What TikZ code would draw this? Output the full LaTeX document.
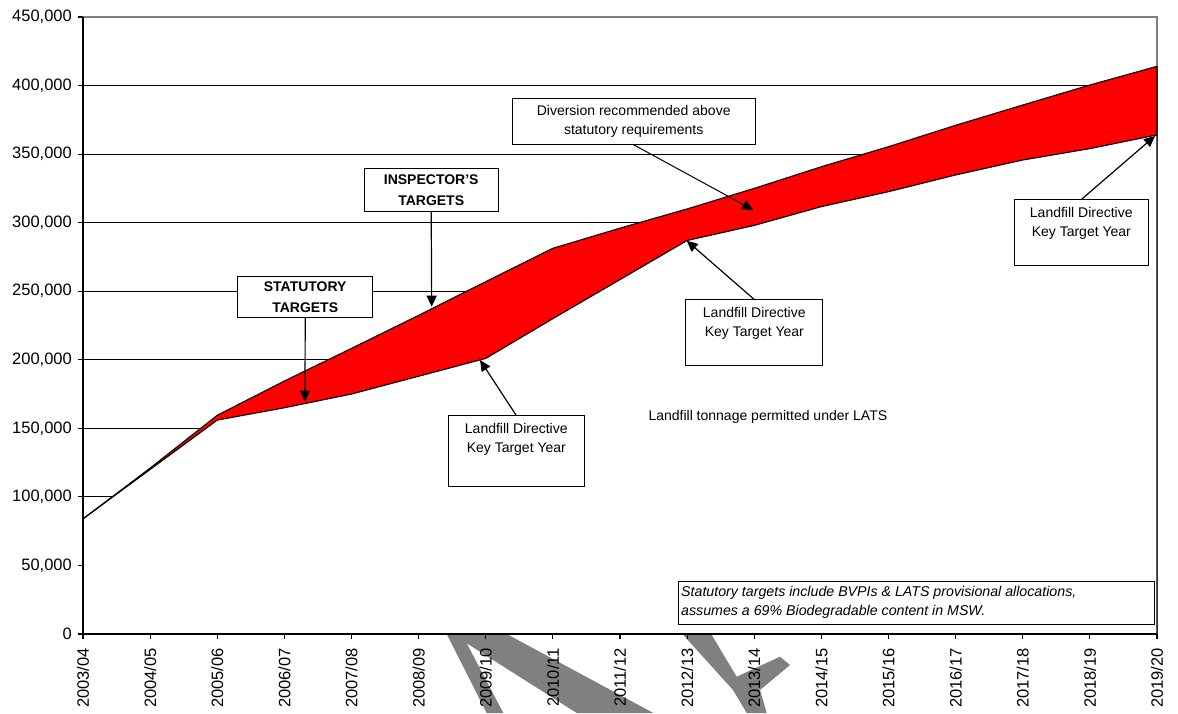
\documentclass[tikz,border=0pt]{standalone}
\usepackage{fontspec}
\setmainfont{Liberation Sans}
\usetikzlibrary{arrows.meta}
\begin{document}
\begin{tikzpicture}[x=1pt,y=1pt,
  gridline/.style={black, line width=0.9pt},
  seriesline/.style={black, line width=1.1pt, line join=round},
  callout/.style={draw=black, line width=1pt, fill=white, inner sep=0pt, align=center},
  boldbox/.style={callout, font=\bfseries\fontsize{14}{20.5}\selectfont},
  plainbox/.style={callout, font=\fontsize{14}{19}\selectfont},
  pointer/.style={black, line width=1.2pt, -{Triangle[length=11pt,width=10pt]}},
  ylab/.style={anchor=east, inner sep=0pt, font=\fontsize{16.5}{17}\selectfont},
  xlab/.style={anchor=east, rotate=90, inner sep=0pt, font=\fontsize{16.5}{17}\selectfont},
  watermark/.style={fill=black!50},
]
\useasboundingbox (0,0) rectangle (1178,713);
\fill[white] (0,0) rectangle (1178,713);

% faint watermark pieces below the axis
\fill[watermark] (446.7,79) -- (506.7,79) -- (653.3,0) -- (576.7,0) -- (466.7,69.7) -- (503.3,0) -- (486.7,0) -- cycle;
\fill[watermark] (683.3,78) -- (711.7,78) -- (736.7,36.3) -- (780,56.3) -- (790,48) -- (760,23) -- (766.7,0) -- (746.7,0) -- (733,23) -- cycle;

% plot area border
\draw[black!50, line width=1.1pt] (83,79) rectangle (1157,696);

\begin{scope}[shift={(83,79)}, x=67.125pt, y=1.37111pt]
  % gridlines
  \foreach \v in {50,100,...,400} \draw[gridline] (0,\v) -- (16,\v);
  % lower (statutory) area
  \fill[white] (0,0) -- (0,84) -- (1,120) -- (2,156) -- (3,165) -- (4,175) -- (5,188) -- (6,201) -- (7,230) -- (8,258.5) -- (9,287) -- (10,298) -- (11,311.7) -- (12,322.6) -- (13,334.8) -- (14,345.7) -- (15,354) -- (16,364) -- (16,0) -- cycle;
  % upper (inspector) band
  \fill[red] (0,84) -- (1,121) -- (2,159.5) -- (3,184.5) -- (4,208.3) -- (5,232.4) -- (6,257) -- (7,281.3) -- (8,296) -- (9,310) -- (10,325) -- (11,340.8) -- (12,355.4) -- (13,371) -- (14,385.8) -- (15,400.4) -- (16,414)
     -- (16,364) -- (15,354) -- (14,345.7) -- (13,334.8) -- (12,322.6) -- (11,311.7) -- (10,298) -- (9,287) -- (8,258.5) -- (7,230) -- (6,201) -- (5,188) -- (4,175) -- (3,165) -- (2,156) -- (1,120) -- cycle;
  % outlines
  \draw[seriesline] (0,84) -- (1,120) -- (2,156) -- (3,165) -- (4,175) -- (5,188) -- (6,201) -- (7,230) -- (8,258.5) -- (9,287) -- (10,298) -- (11,311.7) -- (12,322.6) -- (13,334.8) -- (14,345.7) -- (15,354) -- (16,364) -- (16,0);
  \draw[seriesline] (0,84) -- (1,121) -- (2,159.5) -- (3,184.5) -- (4,208.3) -- (5,232.4) -- (6,257) -- (7,281.3) -- (8,296) -- (9,310) -- (10,325) -- (11,340.8) -- (12,355.4) -- (13,371) -- (14,385.8) -- (15,400.4) -- (16,414) -- (16,364);
  % axes
  \draw[black, line width=1.5pt] (0,450) -- (0,0) -- (16,0);
  \foreach \v in {0,50,...,450} \draw[black, line width=1.1pt] (0,\v) -- ++(-5pt,0);
  \foreach \i in {0,...,16} \draw[black, line width=1.1pt] (\i,0) -- ++(0,-5pt);
\end{scope}

% y labels
\node[ylab] (y0) at (72,79) {0};
\node[ylab] (y50) at (72,147.6) {50,000};
\node[ylab] (y100) at (72,216.1) {100,000};
\node[ylab] (y150) at (72,284.7) {150,000};
\node[ylab] (y200) at (72,353.2) {200,000};
\node[ylab] (y250) at (72,421.8) {250,000};
\node[ylab] (y300) at (72,490.3) {300,000};
\node[ylab] (y350) at (72,558.9) {350,000};
\node[ylab] (y400) at (72,627.4) {400,000};
\node[ylab] (y450) at (72,696) {450,000};

% x labels
\foreach \i/\t in {0/2003\slash 04,1/2004\slash 05,2/2005\slash 06,3/2006\slash 07,4/2007\slash 08,5/2008\slash 09,6/2009\slash 10,7/2010\slash 11,8/2011\slash 12,9/2012\slash 13,10/2013\slash 14,11/2014\slash 15,12/2015\slash 16,13/2016\slash 17,14/2017\slash 18,15/2018\slash 19,16/2019\slash 20}
  \node[xlab] (x\i) at ({83+67.125*\i},65) {\t};

% arrow tip coordinates
\coordinate (tipstat) at (305,311.3);
\coordinate (tipinsp) at (431.7,406.3);
\coordinate (tipdiv) at (753.3,503);
\coordinate (tipld1) at (480,353);
\coordinate (tipld2) at (686.7,472.3);
\coordinate (tipld3) at (1155,577);

% call-out boxes
\node[boldbox, minimum width=135pt, minimum height=40.7pt] (stat) at (305.2,415.7) {STATUTORY\\TARGETS};
\node[boldbox, minimum width=134.3pt, minimum height=42.4pt] (insp) at (431.2,523) {INSPECTOR{\char"27}S\\TARGETS};
\node[plainbox, minimum width=242.7pt, minimum height=46pt] (div) at (633.7,591.7) {Diversion recommended above\\statutory requirements};
\node[plainbox, minimum width=136pt, minimum height=70pt] (ld1) at (516.3,262) {\parbox[c][56pt][t]{130pt}{\centering Landfill Directive\\Key Target Year}};
\node[plainbox, minimum width=136.7pt, minimum height=66pt] (ld2) at (754.3,380) {\parbox[c][52pt][t]{130pt}{\centering Landfill Directive\\Key Target Year}};
\node[plainbox, minimum width=134pt, minimum height=66pt] (ld3) at (1081.3,480) {\parbox[c][52pt][t]{130pt}{\centering Landfill Directive\\Key Target Year}};

% pointers
\draw[pointer] (stat.south) -- (tipstat);
\draw[pointer] (insp.south) -- (tipinsp);
\draw[pointer, line width=1pt] (div.south) -- (tipdiv);
\draw[pointer] (ld1.north) -- (tipld1);
\draw[pointer] (ld2.north) -- (tipld2);
\draw[pointer] (ld3.north) -- (tipld3);

% free text
\node[anchor=base west, inner sep=0pt, font=\fontsize{14}{16}\selectfont] (lats) at (648.3,292.3) {Landfill tonnage permitted under LATS};

% note box
\node[callout, minimum width=476.3pt, minimum height=43.3pt, anchor=north west] (note) at (677.7,132.3) {};
\node[anchor=north west, inner sep=0pt, align=left, font=\itshape\fontsize{14.2}{19}\selectfont] (notetext) at (681,126.7) {Statutory targets include BVPIs \& LATS provisional allocations,\\assumes a 69\% Biodegradable content in MSW.};
\end{tikzpicture}
\end{document}
